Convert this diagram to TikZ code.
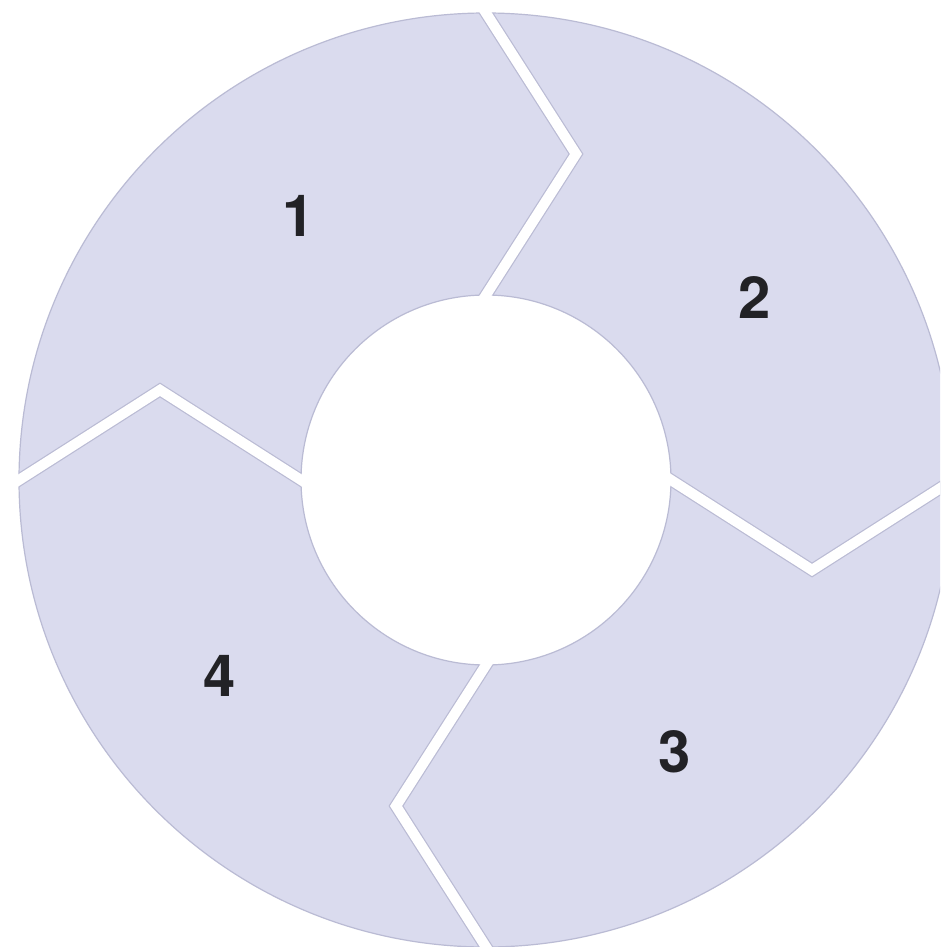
\documentclass[tikz,border=0pt]{standalone}
\usepackage{fontspec}
\setmainfont{TeX Gyre Heros}
\usetikzlibrary{calc}
\definecolor{segfill}{RGB}{218,219,238}
\definecolor{segline}{RGB}{186,187,212}
\definecolor{labtxt}{RGB}{34,34,38}
\tikzset{
  lab/.style={text=labtxt, font=\fontsize{58}{58}\selectfont\bfseries, inner sep=0pt},
  cutline/.style={line join=miter, line cap=butt},
}
\newcommand{\cutpath}{%
  \foreach \ang in {0,-90,-180,-270}{%
    \begin{scope}[rotate around={\ang:(c)}]
      \coordinate (pi) at ($(c)+(0,-185)$);
      \coordinate (pv) at ($(c)+(90,-326)$);
      \coordinate (po) at ($(c)+(0,-467)$);
      \draw[cutline, cutstyle] ($(pv)!1.2!(pi)$) -- (pv) -- ($(pv)!1.2!(po)$);
    \end{scope}
  }%
}
\begin{document}
\begin{tikzpicture}[x=1pt,y=-1pt]
\clip (0,0) rectangle (940,947);
\fill[white] (0,0) rectangle (940,947);
\coordinate (c) at (486,480);
% ring
\fill[segfill, even odd rule] (c) circle[radius=467] (c) circle[radius=185];
\draw[segline, line width=1.2pt] (c) circle[radius=467] (c) circle[radius=185];
% outline of the gaps
\begin{scope}[even odd rule]
  \clip (c) circle[radius=467] (c) circle[radius=185];
  \tikzset{cutstyle/.style={segline, line width=12.6pt}}
  \cutpath
\end{scope}
% white gaps
\begin{scope}[even odd rule]
  \clip (c) circle[radius=472] (c) circle[radius=180];
  \tikzset{cutstyle/.style={white, line width=10.2pt}}
  \cutpath
\end{scope}
% labels
\node[lab] (n1) at (299,216) {1};
\node[lab] (n2) at (755,298) {2};
\node[lab] (n3) at (675,752) {3};
\node[lab] (n4) at (220,676) {4};
\end{tikzpicture}
\end{document}
